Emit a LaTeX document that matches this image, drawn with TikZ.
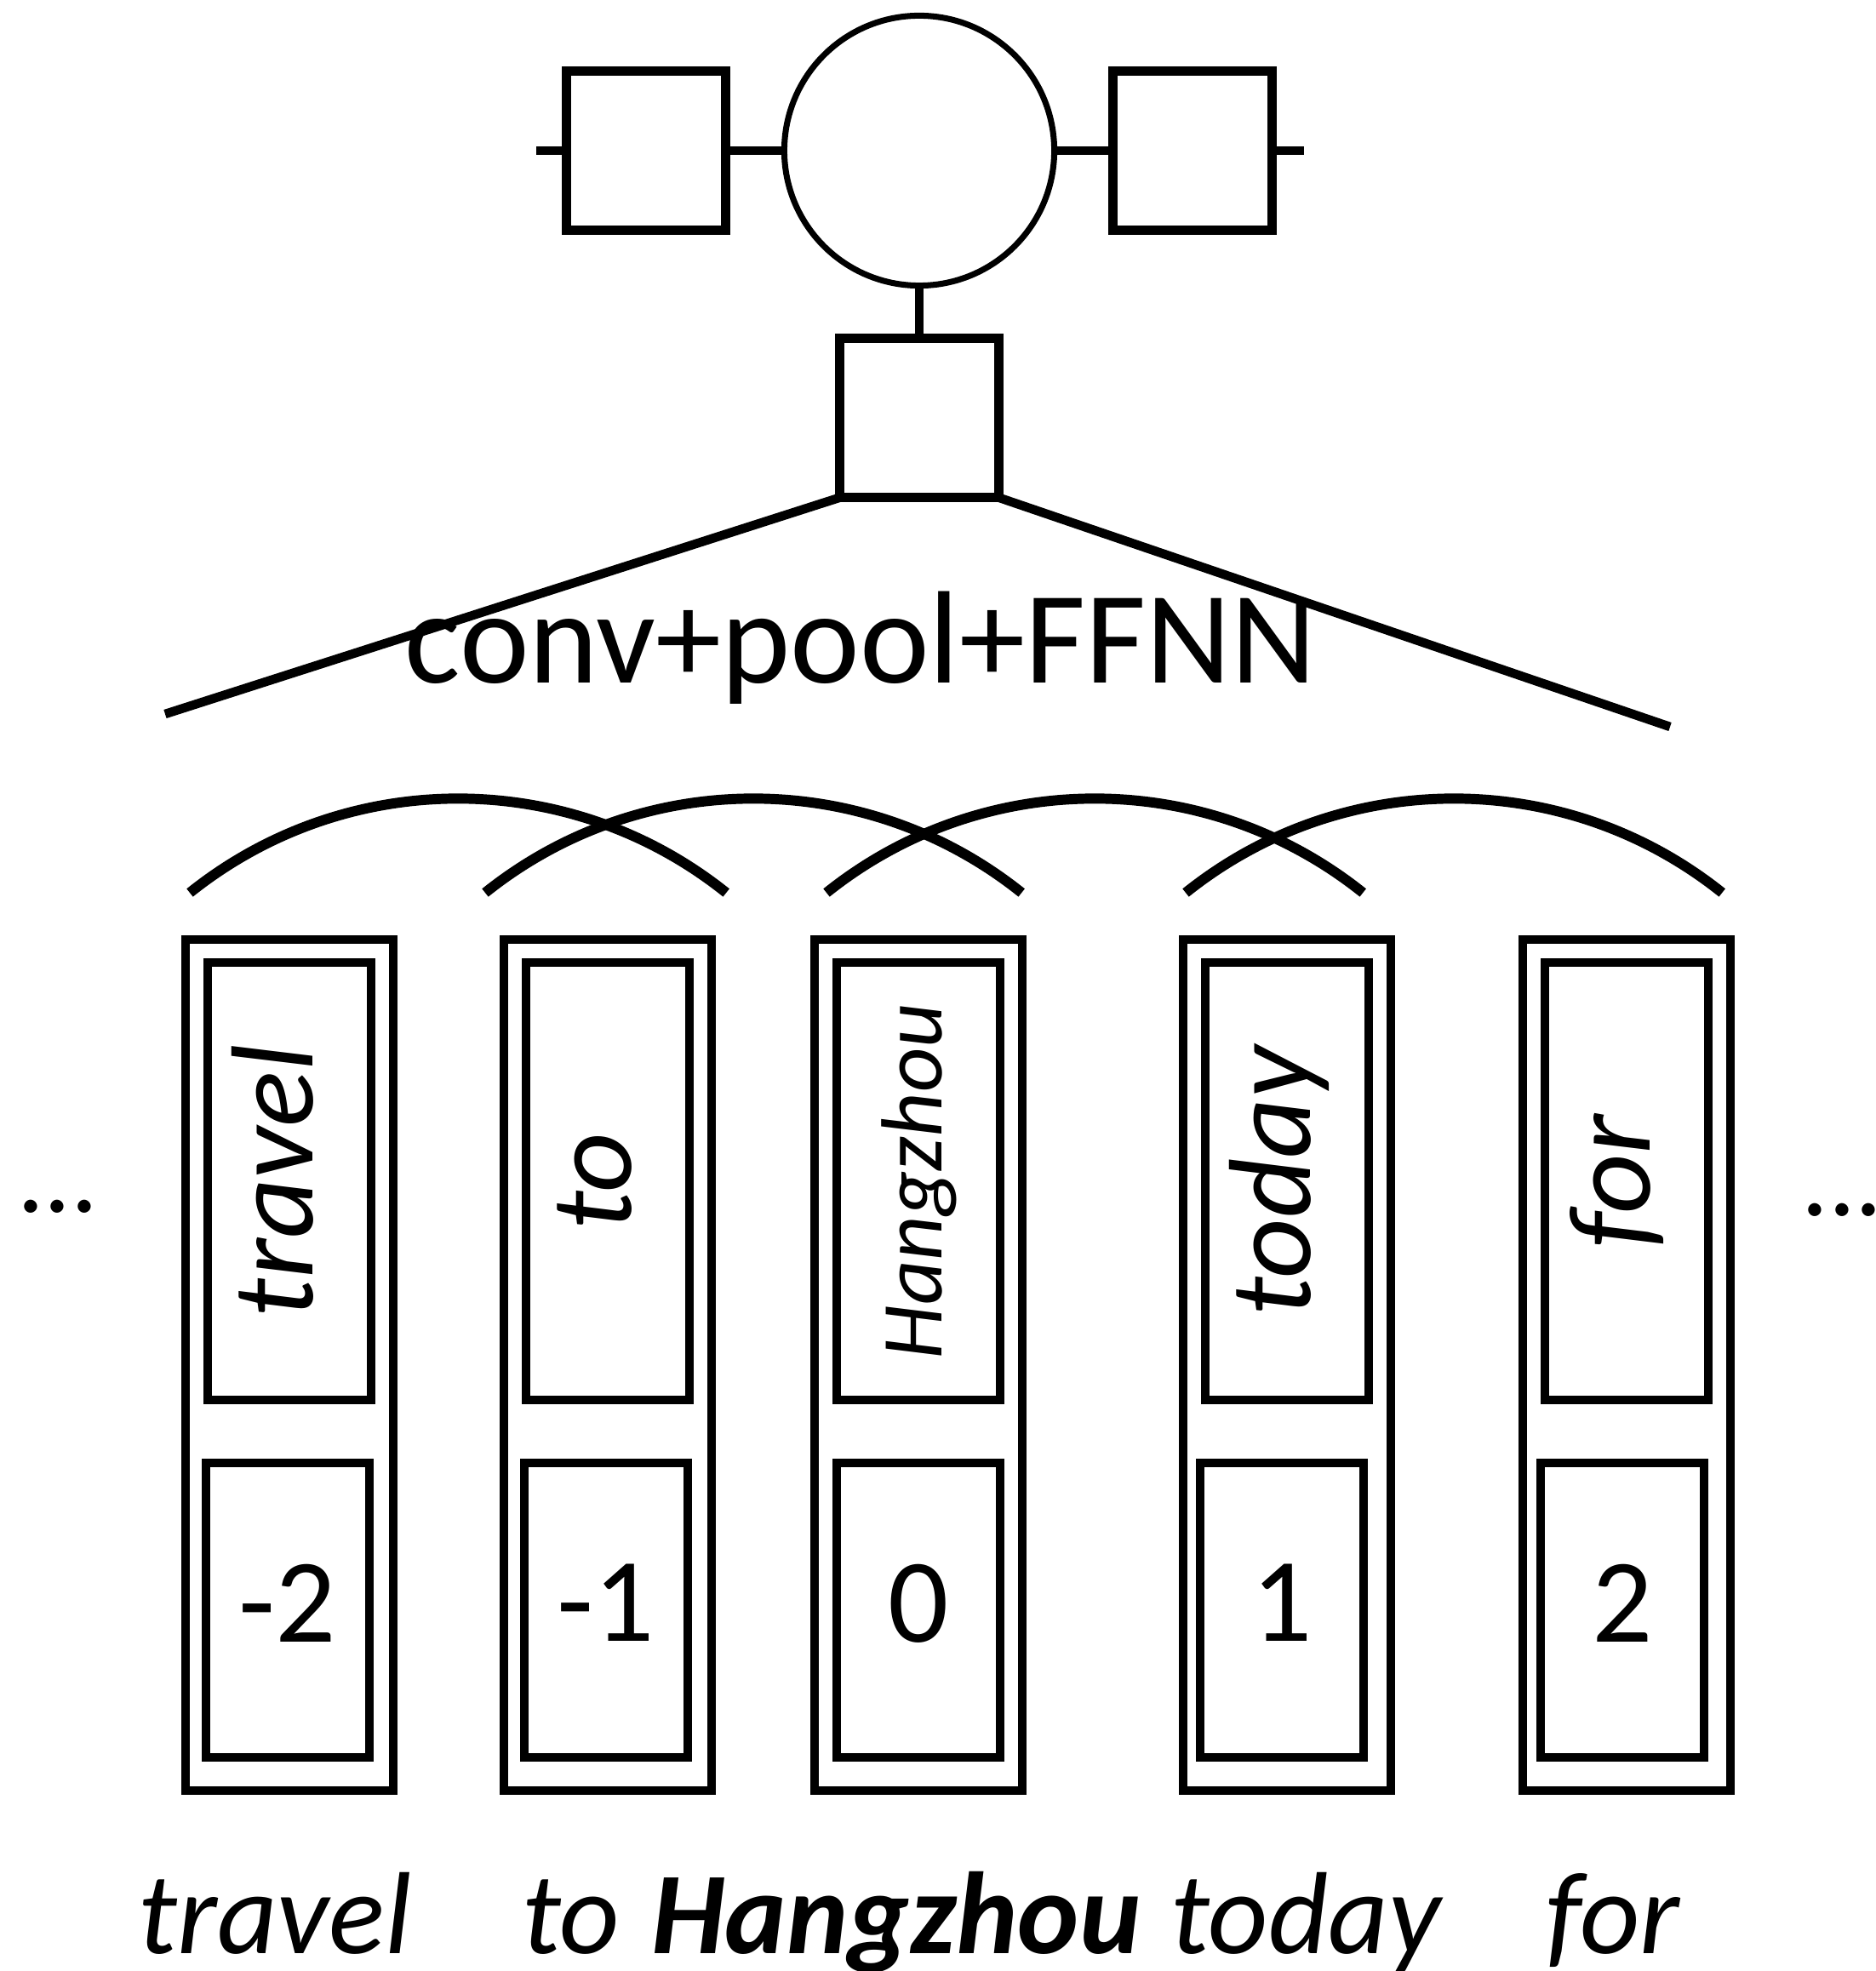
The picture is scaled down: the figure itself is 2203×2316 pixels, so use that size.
\documentclass[tikz,border=0pt]{standalone}
\usepackage{fontspec}
\setmainfont{Carlito}
\usetikzlibrary{positioning}

\begin{document}
\begin{tikzpicture}[x=0.01cm, y=-0.01cm, node distance=0.69cm,
    square/.style={rectangle, draw, line width=3pt, minimum width=1.87cm, minimum height=1.87cm, inner sep=0pt, outer sep=0pt},
    unit/.style={circle, draw, line width=2pt, minimum size=3.17cm, inner sep=0pt, outer sep=0pt},
    column/.style={rectangle, draw, line width=2.85pt, minimum width=2.44cm, minimum height=9.99cm, inner sep=0pt},
    wordbox/.style={rectangle, draw, line width=2.85pt, rotate=90, minimum width=5.13cm, minimum height=1.91cm, inner sep=0pt, text height=0.8cm, text depth=0.26cm, font=\fontsize{39}{45}\selectfont\itshape},
    posbox/.style={rectangle, draw, line width=2.85pt, minimum width=1.91cm, minimum height=3.46cm, inner sep=0pt, text depth=0.17cm, font=\fontsize{40}{48}\selectfont},
    word/.style={anchor=base, inner sep=0pt, font=\fontsize{39}{45}\selectfont\itshape},
    link/.style={line width=3pt},
    window/.style={line width=3.4pt}]
    \useasboundingbox (0,0) rectangle (2203,2316);
    \node [unit] (cell) at (1080,177) {};
    \node [square, left=of cell] (left) {};
    \node [square, right=of cell] (right) {};
    \node [square, below=0.62cm of cell] (pool) {};
    \coordinate [left=0.35cm of left] (lin);
    \coordinate [right=0.37cm of right] (rout);
    \coordinate (lfoot) at (194,839);
    \coordinate (rfoot) at (1962,854);
    \node [anchor=base, inner sep=0pt, font=\fontsize{44}{52}\selectfont] (cnn) at (1011,802) {conv+pool+FFNN};
    \draw [link] (lin) -- (left);
    \draw [link] (left) -- (cell);
    \draw [link] (cell) -- (right);
    \draw [link] (right) -- (rout);
    \draw [link] (cell) -- (pool);
    \draw [link] (pool.south west) -- (lfoot);
    \draw [link] (pool.south east) -- (rfoot);
    \draw [window] (223,1049) arc[start angle=-128.7, end angle=-51.3, radius=504];
    \draw [window] (570,1049) arc[start angle=-128.7, end angle=-51.3, radius=504];
    \draw [window] (971,1049) arc[start angle=-128.7, end angle=-51.3, radius=504];
    \draw [window] (1393,1049) arc[start angle=-128.7, end angle=-51.3, radius=504];
    \node [column] (ctravel) at (340,1604) {};
    \node [wordbox] (wtravel) at (340,1388) {travel};
    \node [posbox] (ptravel) at (338,1892) {-2};
    \node [column] (cto) at (714,1604) {};
    \node [wordbox] (wto) at (714,1388) {to};
    \node [posbox] (pto) at (712,1892) {-1};
    \node [column] (changzhou) at (1079,1604) {};
    \node [wordbox, font=\fontsize{29}{35}\selectfont\itshape] (whangzhou) at (1079,1388) {Hangzhou};
    \node [posbox] (phangzhou) at (1079,1892) {0};
    \node [column] (ctoday) at (1512,1604) {};
    \node [wordbox] (wtoday) at (1512,1388) {today};
    \node [posbox] (ptoday) at (1506,1892) {1};
    \node [column] (cfor) at (1911,1604) {};
    \node [wordbox] (wfor) at (1911,1388) {for};
    \node [posbox] (pfor) at (1906,1892) {2};
    \node [word, font=\fontsize{36}{45}\selectfont] (ldots) at (68,1424) {...};
    \node [word, font=\fontsize{36}{45}\selectfont] (rdots) at (2164,1428) {...};
    \node [word] (btravel) at (323,2295) {travel};
    \node [word] (bto) at (671,2295) {to};
    \node [word, font=\fontsize{39}{45}\selectfont\bfseries\itshape] (bhangzhou) at (1053,2295) {Hangzhou};
    \node [word] (btoday) at (1534,2295) {today};
    \node [word] (bfor) at (1895,2295) {for};
\end{tikzpicture}
\end{document}
